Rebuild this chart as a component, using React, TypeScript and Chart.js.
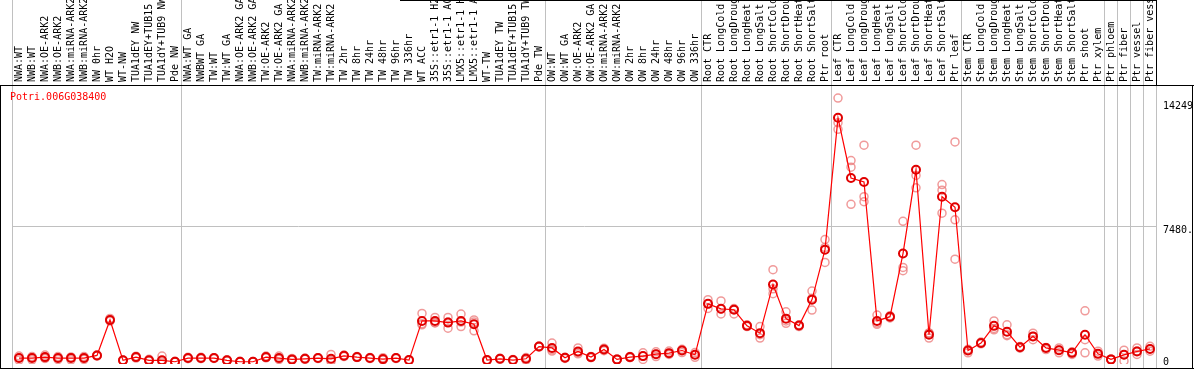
import { useEffect, useRef } from 'react';
import { Chart, registerables } from 'chart.js';

Chart.register(...registerables);

const geneId = 'Potri.006G038400';

const categories = [
  'NWA:WT', 'NWB:WT', 'NWA:OE-ARK2', 'NWB:OE-ARK2', 'NWA:miRNA-ARK2', 'NWB:miRNA-ARK2', 'NW 0hr', 'WT H2O', 'WT-NW',
  'TUA1dEY NW', 'TUA1dEY+TUB15 ', 'TUA1dY+TUB9 NW', 'Pde NW',
  'NWA:WT GA', 'NWBWT GA', 'TW:WT', 'TW:WT GA', 'NWA:OE-ARK2 GA', 'NWB:OE-ARK2 GA', 'TW:OE-ARK2', 'TW:OE-ARK2 GA',
  'NWA:miRNA-ARK2', 'NWB:miRNA-ARK2', 'TW:miRNA-ARK2', 'TW:miRNA-ARK2', 'TW 2hr', 'TW 8hr', 'TW 24hr', 'TW 48hr',
  'TW 96hr', 'TW 336hr', 'WT ACC', '35S::etr1-1 H2', '35S::etr1-1 AC', 'LMX5::etr1-1 H', 'LMX5::etr1-1 A', 'WT-TW',
  'TUA1dEY TW', 'TUA1dEY+TUB15 ', 'TUA1dY+TUB9 TW', 'Pde TW',
  'OW:WT', 'OW:WT GA', 'OW:OE-ARK2', 'OW:OE-ARK2 GA', 'OW:miRNA-ARK2', 'OW:miRNA-ARK2', 'OW 2hr', 'OW 8hr',
  'OW 24hr', 'OW 48hr', 'OW 96hr', 'OW 336hr',
  'Root CTR', 'Root LongCold', 'Root LongDroug', 'Root LongHeat', 'Root LongSalt', 'Root ShortCold', 'Root ShortDrou',
  'Root ShortHeat', 'Root ShortSalt', 'Ptr root',
  'Leaf CTR', 'Leaf LongCold', 'Leaf LongDroug', 'Leaf LongHeat', 'Leaf LongSalt', 'Leaf ShortCold', 'Leaf ShortDrou',
  'Leaf ShortHeat', 'Leaf ShortSalt', 'Ptr leaf',
  'Stem CTR', 'Stem LongCold', 'Stem LongDroug', 'Stem LongHeat', 'Stem LongSalt', 'Stem ShortCold', 'Stem ShortDrou',
  'Stem ShortHeat', 'Stem ShortSalt', 'Ptr shoot', 'Ptr xylem',
  'Ptr phloem', 'Ptr fiber', 'Ptr vessel', 'Ptr fiber vess',
];

const meanValues = [
  217, 217, 271, 217, 217, 217, 363, 2314, 92, 271, 92, 92, 16,
  217, 217, 217, 92, 16, 16, 271, 217, 146, 179, 217, 179, 342, 271, 217, 163, 217, 108,
  2260, 2260, 2168, 2260, 2076, 108, 179, 108, 179, 851,
  775, 233, 580, 271, 688, 146, 271, 325, 434, 488, 634, 396,
  3198, 2927, 2873, 1989, 1588, 4265, 2385, 2005, 3431, 6179,
  13425, 10119, 9902, 2260, 2493, 5962, 10569, 1501, 9089, 8509,
  634, 1046, 1989, 1664, 813, 1409, 775, 650, 504, 1501, 450,
  146, 396, 580, 721,
];

const replicate1 = [
  330, 300, 380, 300, 280, 300, 400, 2400, 80, 320, 150, 330, 40,
  260, 260, 240, 120, 40, 30, 330, 330, 200, 220, 240, 417, 380, 300, 250, 240, 240, 130,
  2672, 2455, 2455, 2640, 2314, 130, 210, 140, 250, 880,
  1046, 260, 775, 300, 760, 170, 300, 504, 560, 600, 700, 520,
  3431, 3360, 2640, 2043, 1951, 5079, 2764, 2050, 3902, 6737,
  14509, 11073, 11924, 2585, 2550, 7734, 11924, 1588, 9756, 12103,
  700, 1100, 2260, 2043, 850, 1588, 800, 775, 560, 2818, 596,
  170, 650, 775, 867,
];

const replicate2 = [
  110, 120, 220, 140, 120, 150, 330, 2250, 100, 220, 60, 0, 10,
  180, 190, 200, 60, 10, 10, 230, 150, 100, 150, 190, 100, 300, 250, 190, 120, 190, 80,
  2043, 2168, 1859, 1951, 1718, 80, 150, 80, 100, 820,
  688, 200, 450, 240, 620, 120, 240, 146, 300, 420, 520, 260,
  2943, 2640, 2943, 1951, 1317, 3756, 2130, 1950, 2856, 5474,
  12791, 10715, 9089, 2076, 2420, 5203, 10260, 1317, 9447, 7821,
  504, 1000, 1770, 1501, 760, 1230, 688, 504, 417, 1230, 325,
  120, 54, 417, 596,
];

const replicate3 = [
  220, 230, 200, 210, 230, 200, 360, 2300, 95, 270, 70, 90, 0,
  210, 200, 210, 90, 0, 10, 250, 170, 140, 170, 220, 30, 340, 260, 210, 130, 220, 110,
  2100, 2150, 2200, 2200, 2200, 110, 180, 110, 190, 850,
  600, 240, 520, 270, 690, 150, 270, 330, 440, 480, 650, 400,
  3200, 2900, 2900, 2000, 1500, 4027, 2260, 2000, 3500, 6300,
  13154, 8672, 8818, 2150, 2500, 5024, 9577, 1600, 8184, 5653,
  640, 1040, 1850, 1450, 820, 1400, 780, 660, 500, 504, 460,
  150, 400, 600, 720,
];

// group separators: index of the first category of each group (88 = right edge)
const groupStarts = [0, 13, 41, 53, 63, 73, 84, 85, 86, 87, 88];

const yTickValues = [0, 7480.5, 14249];
const yTickLabels = ['0', '7480.5', '14249'];
const gridValue = 7480.5;

const MONO = "10px 'DejaVu Sans Mono', monospace";

const decorPlugin = {
  id: 'decor',
  beforeDraw(chart: any) {
    const { ctx, chartArea, width, height } = chart;
    const x = chart.scales.x;
    const y = chart.scales.y;
    const band = (chartArea.right - chartArea.left) / categories.length;
    ctx.save();
    ctx.fillStyle = '#ffffff';
    ctx.fillRect(0, 0, width, height);

    // group separators
    ctx.lineWidth = 1;
    groupStarts.forEach((g) => {
      const px = Math.round(chartArea.left + g * band) - 0.5;
      ctx.strokeStyle = '#c0c0c0';
      ctx.beginPath();
      ctx.moveTo(px, g === categories.length ? 85 : 0);
      ctx.lineTo(px, 368);
      ctx.stroke();
      if (g === categories.length) {
        ctx.strokeStyle = '#000000';
        ctx.beginPath();
        ctx.moveTo(px, 0);
        ctx.lineTo(px, 85);
        ctx.stroke();
      }
    });

    // grid line
    const gy = Math.round(y.getPixelForValue(gridValue)) + 0.5;
    ctx.strokeStyle = '#c0c0c0';
    ctx.beginPath();
    ctx.moveTo(chartArea.left, gy);
    ctx.lineTo(chartArea.right, gy);
    ctx.stroke();

    // header labels
    ctx.fillStyle = '#000000';
    ctx.font = MONO;
    ctx.textAlign = 'left';
    ctx.textBaseline = 'middle';
    categories.forEach((c, i) => {
      const px = x.getPixelForValue(i);
      ctx.save();
      ctx.translate(px + 0.5, 82);
      ctx.rotate(-Math.PI / 2);
      ctx.fillText(c, 0, 0);
      ctx.restore();
    });

    // gene id
    ctx.fillStyle = '#ff0000';
    ctx.font = MONO;
    ctx.textBaseline = 'middle';
    ctx.fillText(geneId, 10, 97);
    ctx.restore();
  },
  afterDraw(chart: any) {
    const { ctx } = chart;
    const y = chart.scales.y;
    ctx.save();
    ctx.fillStyle = '#000000';
    ctx.fillRect(0, 85, 1194, 1);
    ctx.fillRect(0, 85, 1, 284);
    ctx.fillRect(1192, 85, 1, 284);
    ctx.fillRect(0, 368, 1194, 1);
    ctx.fillRect(400, 0, 756, 1);

    // y tick labels
    ctx.beginPath();
    ctx.rect(1157, 86, 35, 282);
    ctx.clip();
    ctx.fillStyle = '#000000';
    ctx.font = MONO;
    ctx.textAlign = 'left';
    ctx.textBaseline = 'middle';
    yTickValues.forEach((v, i) => {
      const py = Math.min(y.getPixelForValue(v) + 4, 362);
      ctx.fillText(yTickLabels[i], 1163, py);
    });
    ctx.restore();
  },
};

export default function App() {
  const ref = useRef<HTMLCanvasElement>(null);
  useEffect(() => {
    document.body.style.margin = '0';
    const repStyle = {
      type: 'line' as const,
      showLine: false,
      pointRadius: 4,
      pointBorderWidth: 1.5,
      pointBorderColor: 'rgba(235,120,120,0.75)',
      pointBackgroundColor: 'rgba(0,0,0,0)',
      borderColor: 'rgba(235,120,120,0.75)',
    };
    const chart = new Chart(ref.current!, {
      type: 'line',
      data: {
        labels: categories,
        datasets: [
          {
            data: meanValues,
            borderColor: '#ff0000',
            borderWidth: 1.2,
            pointRadius: 4,
            pointBorderWidth: 2,
            pointBorderColor: '#e00000',
            pointBackgroundColor: 'rgba(0,0,0,0)',
            tension: 0,
          },
          { ...repStyle, data: replicate1 },
          { ...repStyle, data: replicate2 },
          { ...repStyle, data: replicate3 },
        ],
      },
      options: {
        animation: false,
        responsive: false,
        devicePixelRatio: 1,
        layout: { padding: { left: 12.5, right: 37.5, top: 85, bottom: 2 } },
        plugins: { legend: { display: false }, tooltip: { enabled: false } },
        scales: {
          x: { type: 'category', offset: true, display: false },
          y: { type: 'linear', min: -108, max: 15230, display: false },
        },
      },
      plugins: [decorPlugin],
    });
    return () => chart.destroy();
  }, []);
  return (
    <canvas
      ref={ref}
      width={1194}
      height={370}
      style={{ display: 'block', width: 1194, height: 370 }}
    />
  );
}
